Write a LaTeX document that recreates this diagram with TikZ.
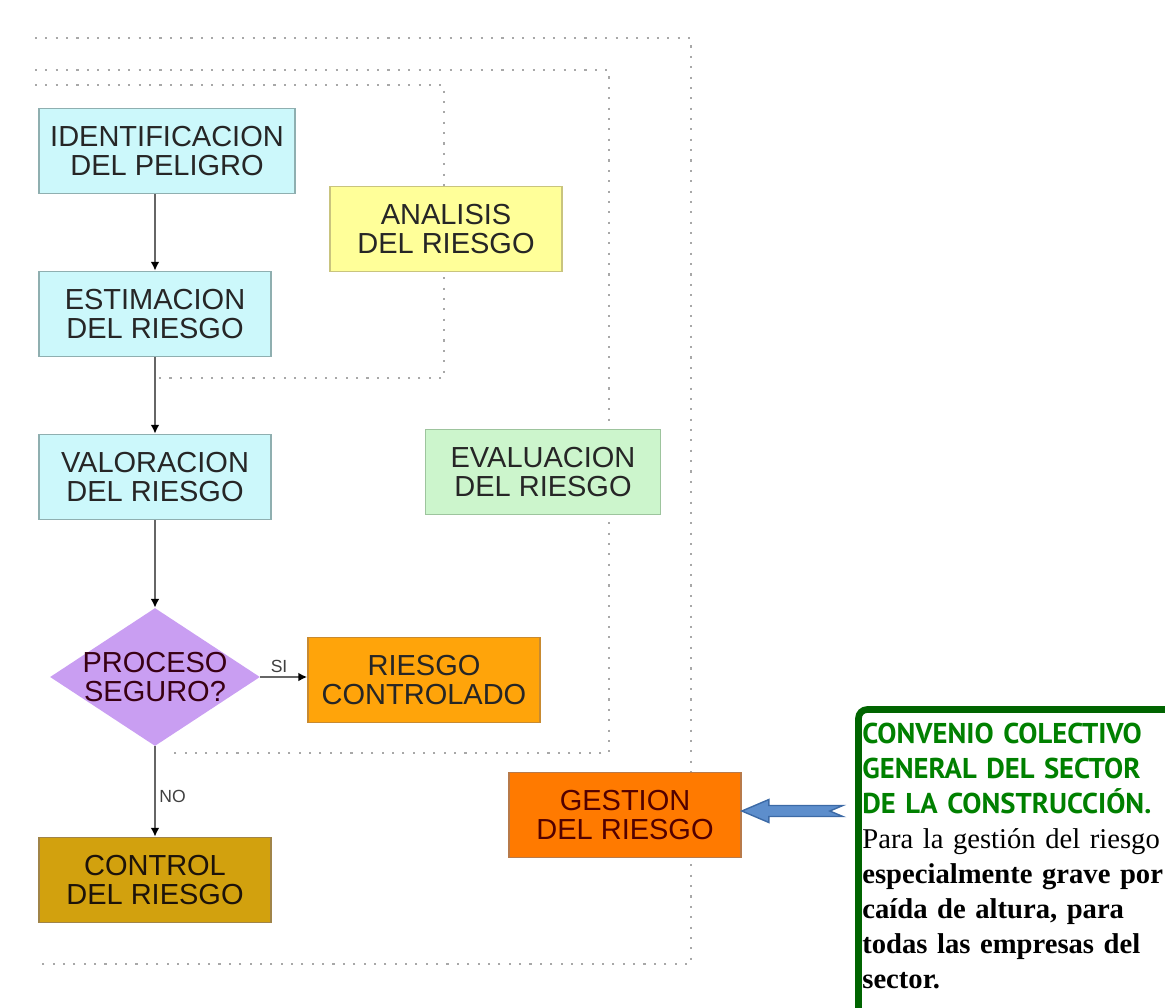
\documentclass[tikz,border=0pt]{standalone}
\usepackage{fontspec}
\usepackage{tikz}
\usetikzlibrary{shapes.geometric,arrows.meta}

\newfontfamily\boxfont{Liberation Sans}
\newfontfamily\headfont{PT Sans}
\newfontfamily\notefont{Liberation Serif}

\definecolor{cyanfill}{HTML}{CCF8FB}
\definecolor{cyanline}{HTML}{8FAFB0}
\definecolor{yellowfill}{HTML}{FFFF99}
\definecolor{yellowline}{HTML}{C9C47E}
\definecolor{greenfill}{HTML}{CCF5CC}
\definecolor{greenline}{HTML}{9DC49D}
\definecolor{purplefill}{HTML}{C99EF2}
\definecolor{orangefill}{HTML}{FFA40A}
\definecolor{orangeline}{HTML}{C88A30}
\definecolor{gestionfill}{HTML}{FF7A00}
\definecolor{gestionline}{HTML}{B87A4A}
\definecolor{goldfill}{HTML}{D2A10E}
\definecolor{goldline}{HTML}{A08448}
\definecolor{arrowfill}{HTML}{5D8ECC}
\definecolor{arrowline}{HTML}{3C6AA6}
\definecolor{framegreen}{HTML}{006400}
\definecolor{titlegreen}{HTML}{008000}
\definecolor{dotgray}{HTML}{A8A8A8}

\newcommand{\notehead}[1]{{\headfont\bfseries\color{titlegreen}#1}}

\tikzset{
  box/.style={shape=rectangle, draw, line width=1pt, minimum width=4.64cm,
    minimum height=1.7cm, inner sep=0pt, align=center,
    font=\boxfont\fontsize{16.5}{16}\selectfont, text=black!85},
  idbox/.style={box, fill=cyanfill, draw=cyanline},
  anbox/.style={box, fill=yellowfill, draw=yellowline},
  evbox/.style={box, fill=greenfill, draw=greenline},
  okbox/.style={box, fill=orangefill, draw=orangeline},
  gesbox/.style={box, fill=gestionfill, draw=gestionline, text=black!60!red!80!black},
  ctlbox/.style={box, fill=goldfill, draw=goldline, text=black!85!brown},
  decision/.style={shape=diamond, fill=purplefill, minimum width=4.2cm,
    minimum height=2.76cm, inner sep=0pt},
  flow/.style={-{Latex[length=5pt,width=5pt,color=black]}, draw=black!60, line width=1.1pt},
  flowlabel/.style={font=\boxfont\fontsize{10}{12}\selectfont, text=black!75, inner sep=2pt},
  dots/.style={draw=dotgray, line width=1.2pt, dash pattern=on 1.2pt off 4.7pt},
  blockarrow/.style={fill=arrowfill, draw=arrowline, line width=0.8pt, line join=miter},
  note/.style={anchor=north west, text width=6.15cm, align=left, inner sep=0pt,
    font=\notefont\fontsize{16.3}{19.9}\selectfont}
}

\begin{document}
\begin{tikzpicture}[x=0.02cm, y=-0.02cm]
	\useasboundingbox (0,0) rectangle (1165,1007);
	\clip (0,0) rectangle (1165,1007);
	
	% dotted frames
	\draw[dots] (35,38) -- (691,38) -- (691,964) -- (42,964);
	\draw[dots] (35,70) -- (609,70) -- (609,753) -- (170,753);
	\draw[dots] (35,85) -- (444,85) -- (444,378) -- (158,378);
	
	\node[idbox, minimum width=5.12cm] (ident) at (167,151) {IDENTIFICACION\\DEL PELIGRO};
	\node[idbox] (estim) at (155,314) {ESTIMACION\\DEL RIESGO};
	\node[idbox] (valor) at (155,477) {VALORACION\\DEL RIESGO};
	\node[anbox] (analisis) at (446,229) {ANALISIS\\DEL RIESGO};
	\node[evbox, minimum width=4.7cm] (evalua) at (543,472) {EVALUACION\\DEL RIESGO};
	\node[decision, label={[font=\boxfont\fontsize{16.5}{16}\selectfont, text=black!70!purple, align=center]center:PROCESO\\SEGURO?}] (proceso) at (155,677) {};
	\node[okbox] (controlado) at (424,680) {RIESGO\\CONTROLADO};
	\node[ctlbox] (control) at (155,880) {CONTROL\\DEL RIESGO};
	\node[gesbox] (gestion) at (625,815) {GESTION\\DEL RIESGO};
	
	\path (ident.south -| estim.north) edge[flow] (estim.north);
	\path (estim) edge[flow] (valor);
	\path (valor) edge[flow] (proceso);
	\path (proceso.east) edge[flow] node[flowlabel, above, pos=0.4] {SI} (proceso.east -| controlado.west);
	\path (proceso) edge[flow] node[flowlabel, right, pos=0.55] {NO} (control);
	
	% block arrow pointing at the management box
	\draw[blockarrow] ([yshift=0.08cm]gestion.east) -- ++(27,-11.5) -- ++(0,6) -- ++(74,0)
		-- ++(-13,5.5) -- ++(13,5.5) -- ++(-74,0) -- ++(0,6) -- cycle;
	
	% note
	\draw[framegreen, line width=3.8pt, rounded corners=5pt] (858.5,1030) -- (858.5,709.5) -- (1190,709.5);
	\node[note] (convenio) at (862,723) {%
		\notehead{\makebox[6.15cm][s]{CONVENIO COLECTIVO}}\\
		\notehead{\makebox[6.15cm][s]{GENERAL DEL SECTOR}}\\
		\notehead{DE LA CONSTRUCCIÓN.}\\
		Para la gestión del riesgo\\
		\textbf{especialmente grave por}\\
		\textbf{caída de altura, para}\\
		\textbf{todas las empresas del}\\
		\textbf{sector.}};

\end{tikzpicture}
\end{document}
